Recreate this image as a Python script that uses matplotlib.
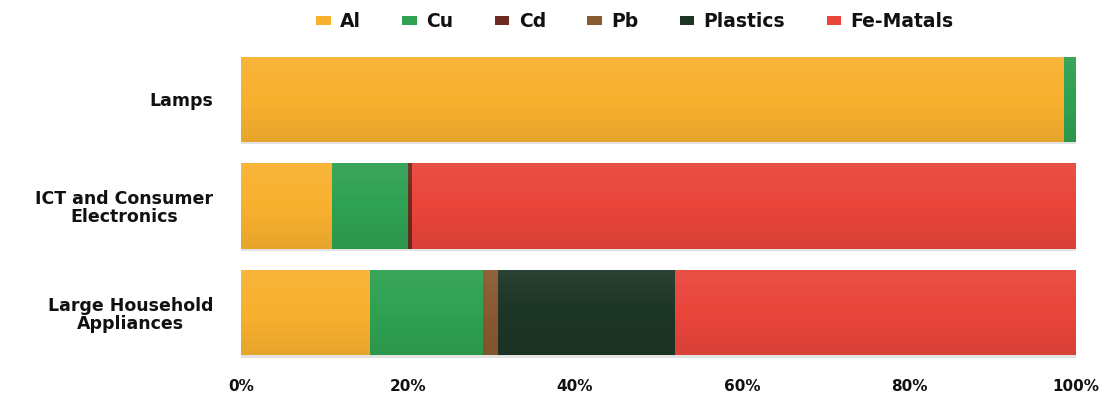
import numpy as np
import matplotlib
matplotlib.use('Agg')
import matplotlib.pyplot as plt
from matplotlib.ticker import PercentFormatter

categories = ['Lamps', 'ICT and Consumer\nElectronics', 'Large Household\nAppliances']
materials = ['Al', 'Cu', 'Cd', 'Pb', 'Plastics', 'Fe-Matals']

# share of each material per category (%)
al = [98.6, 10.9, 15.4]
cu = [1.4, 9.1, 13.6]
cd = [0.0, 0.5, 0.0]
pb = [0.0, 0.0, 1.8]
plastics = [0.0, 0.0, 21.2]
fe_metals = [0.0, 79.5, 48.0]

colors = ['#F8B12F', '#2FA152', '#6E2A22', '#8A5A30', '#1D3527', '#E9453B']

series = [al, cu, cd, pb, plastics, fe_metals]

plt.rcParams['font.family'] = ['DejaVu Sans']
plt.rcParams['font.weight'] = 'bold'

fig = plt.figure(figsize=(11.08, 3.97), dpi=100)
ax = fig.add_axes([0.2175, 0.078, 0.7535, 0.806])

bar_h = 0.8
y = np.arange(len(categories))
left = np.zeros(len(categories))
for name, vals, col in zip(materials, series, colors):
    vals = np.array(vals)
    ax.barh(y, vals, left=left, height=bar_h, color=col, label=name,
            edgecolor='none', zorder=2)
    left += vals

# soft vertical shading over each full bar: lighter top, darker bottom
shade = np.zeros((64, 1, 4))
t = np.linspace(0, 1, 64)
shade[:, 0, :3] = np.where(t[:, None] < 0.5, 1.0, 0.0)
shade[:, 0, 3] = np.abs(t - 0.5) * np.where(t < 0.5, 0.12, 0.14)
for yi, total in zip(y, left):
    ax.imshow(shade, extent=(0, total, yi + bar_h / 2, yi - bar_h / 2),
              aspect='auto', interpolation='bilinear', zorder=3)
    # faint shadow under the bar
    ax.barh(yi + bar_h / 2 + 0.01, total, height=0.02, color='#b0b0b0',
            alpha=0.35, edgecolor='none', zorder=1)

ax.set_ylim(2.5, -0.5)
ax.set_xlim(0, 100)
ax.set_yticks(y)
ax.set_yticklabels(categories, fontsize=12.5, fontweight='bold',
                   multialignment='center', color='#111111', linespacing=1.0)
ax.set_xticks([0, 20, 40, 60, 80, 100])
ax.xaxis.set_major_formatter(PercentFormatter(decimals=0))
ax.tick_params(axis='x', length=0, labelsize=11, pad=9, colors='#111111')
ax.tick_params(axis='y', length=0, pad=20)
for lbl in ax.get_xticklabels():
    lbl.set_fontweight('bold')
for s in ax.spines.values():
    s.set_visible(False)

leg = fig.legend(loc='upper center', bbox_to_anchor=(0.573, 1.012), ncol=6,
                 frameon=False, fontsize=13.5, handlelength=0.78,
                 handleheight=0.36, columnspacing=2.2, handletextpad=0.5)
for txt in leg.get_texts():
    txt.set_color('#111111')

fig.savefig('out.png', dpi=100)
